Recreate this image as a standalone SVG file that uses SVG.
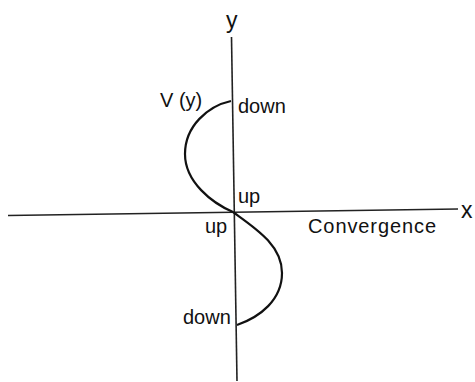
<svg xmlns="http://www.w3.org/2000/svg" width="475" height="382" viewBox="0 0 475 382">
<style>
text{font-family:"Liberation Sans",Arial,sans-serif;font-size:20px;fill:#111}
.big{font-size:23px}
.ax{stroke:#222;stroke-width:1.6;fill:none}
.cv{stroke:#111;stroke-width:2.2;fill:none}
</style>
<rect width="475" height="382" fill="#fff"/>
<g id="axes">
<line class="ax" x1="231.5" y1="37" x2="237" y2="381"/>
<line class="ax" x1="8" y1="215.5" x2="458" y2="209"/>
</g>
<g id="curve">
<path class="cv" d="M231,101 C208,106 185,126 185,154 C185,182 212,203 233,212"/>
<path class="cv" d="M233,212 C255,228 282,245 282,273 C282,300 260,317 237,325"/>
</g>
<g id="labels">
<text class="big" x="226" y="28">y</text>
<text class="big" x="461" y="218">x</text>
<text x="160" y="107">V (y)</text>
<text x="238" y="113">down</text>
<text x="238" y="203">up</text>
<text x="205" y="233">up</text>
<text x="308" y="233" textLength="128">Convergence</text>
<text x="183" y="324">down</text>
</g>
</svg>
